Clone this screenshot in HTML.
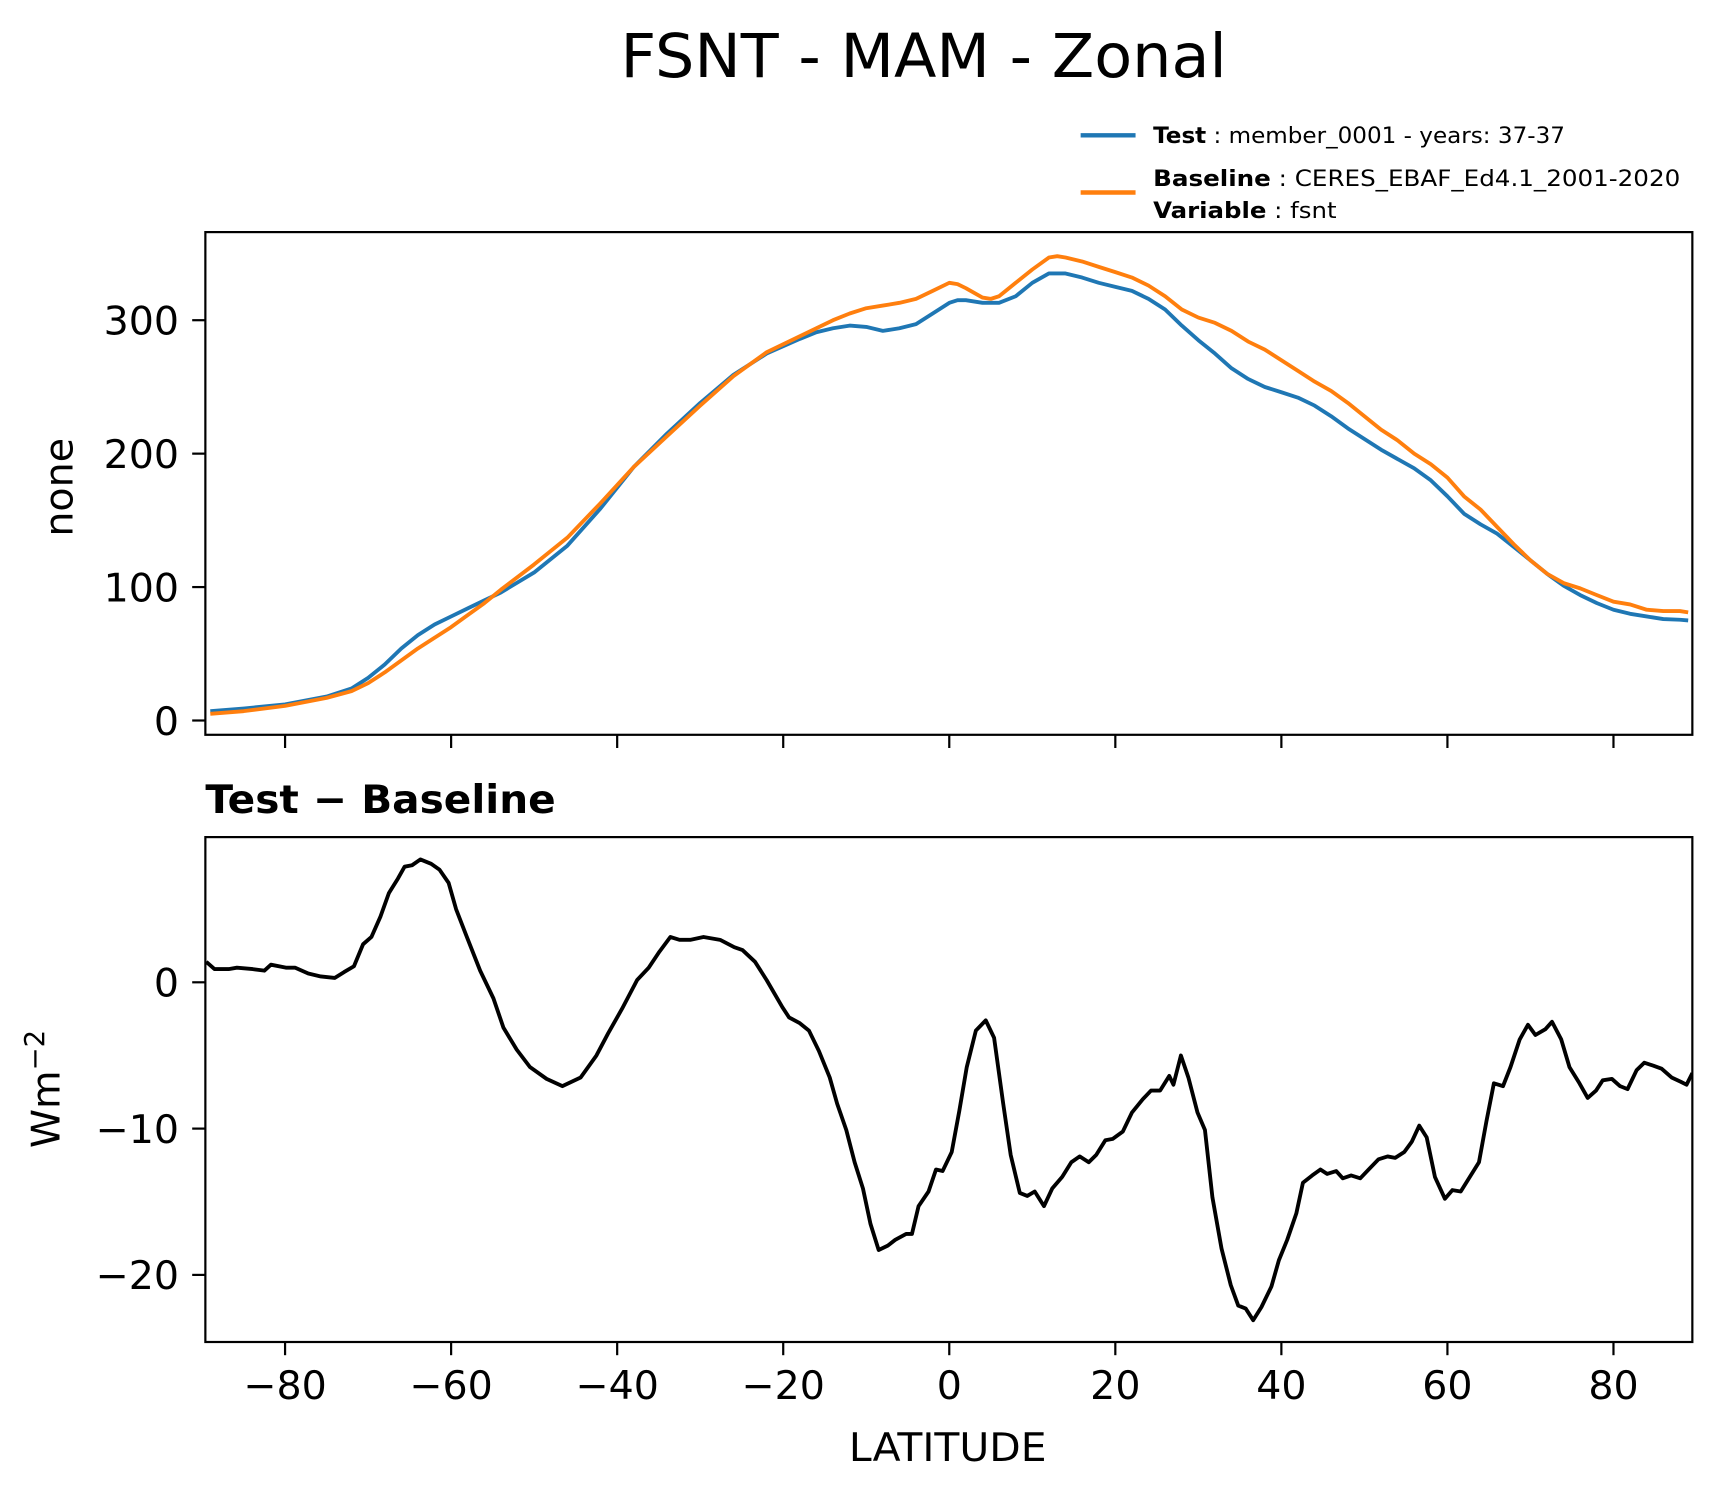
<!DOCTYPE html>
<html><head><meta charset="utf-8"><style>
html,body{margin:0;padding:0;background:#fff;}
svg{display:block;font-family:"DejaVu Sans","Liberation Sans",sans-serif;}
</style></head><body>
<svg id="chart" width="1722" height="1496" viewBox="0 0 1568 1360" preserveAspectRatio="none" xmlns="http://www.w3.org/2000/svg">
<rect width="1568" height="1360" fill="#fff"/>
<text x="841" y="70" font-size="55" text-anchor="middle" textLength="552" lengthAdjust="spacingAndGlyphs">FSNT - MAM - Zonal</text>
<g>
<line x1="984" y1="123" x2="1034" y2="123" stroke="#1f77b4" stroke-width="4"/>
<text x="1050" y="130" font-size="20" textLength="375" lengthAdjust="spacingAndGlyphs"><tspan font-weight="bold">Test</tspan> : member_0001 - years: 37-37</text>
<line x1="984" y1="175" x2="1034" y2="175" stroke="#ff7f0e" stroke-width="4"/>
<text x="1050" y="169" font-size="20" textLength="480" lengthAdjust="spacingAndGlyphs"><tspan font-weight="bold">Baseline</tspan> : CERES_EBAF_Ed4.1_2001-2020</text>
<text x="1050" y="198" font-size="20" textLength="167" lengthAdjust="spacingAndGlyphs"><tspan font-weight="bold">Variable</tspan> : fsnt</text>
</g>
<g id="topPanel"></g>
<g id="botPanel"></g>
<text x="187" y="739" font-size="36" font-weight="bold" textLength="319" lengthAdjust="spacingAndGlyphs">Test − Baseline</text>
<text x="863" y="1328" font-size="36" text-anchor="middle" textLength="180" lengthAdjust="spacingAndGlyphs">LATITUDE</text>
<text transform="translate(66,443) rotate(-90)" font-size="36" text-anchor="middle">none</text>
<text transform="translate(54,990) rotate(-90)" font-size="36" text-anchor="middle">Wm<tspan dy="-14" font-size="25">−2</tspan></text>
</svg>
<script>
const latTop=[-89,-85,-80,-75,-72,-70,-68,-66,-64,-62,-60,-58,-56,-54,-50,-46,-42,-38,-34,-30,-26,-22,-18,-16,-14,-12,-10,-8,-6,-4,-2,0,1,2,4,5,6,8,10,12,13,14,16,18,20,22,24,26,28,30,32,34,36,38,40,42,44,46,48,50,52,54,56,58,60,62,64,66,68,70,72,74,76,78,80,82,84,86,88,89];
const testVals=[7,9,12,18,24,32,42,54,64,72,78,84,90,96,111,131,159,190,215,238,259,275,286,291,294,296,295,292,294,297,305,313,315,315,313,313,313,318,328,335,335,335,332,328,325,322,316,308,296,285,275,264,256,250,246,242,236,228,219,211,203,196,189,180,168,155,147,140,130,120,110,101,94,88,83,80,78,76,75.5,75];
const baseVals=[5,7,11,17,22,28,36,45,54,62,70,79,88,98,117,137,163,190,213,236,258,276,288,294,300,305,309,311,313,316,322,328,327,324,317,316,318,328,338,347,348,347,344,340,336,332,326,318,308,302,298,292,284,278,270,262,254,247,238,228,218,210,200,192,182,168,158,145,132,120,110,103,99,94,89,87,83,82,82,81];
const latDiff=[-89.5,-88.5,-86.8,-85.8,-83.9,-82.5,-81.7,-79.9,-78.8,-77.2,-75.7,-74,-72.9,-71.7,-70.6,-69.6,-68.5,-67.5,-66.4,-65.6,-64.7,-63.7,-62.4,-61.4,-60.3,-59.4,-58.1,-56.5,-54.9,-53.7,-52.1,-50.5,-48.5,-46.6,-44.4,-42.5,-41.1,-39.4,-37.6,-36.2,-34.9,-33.6,-32.5,-31.2,-29.6,-27.6,-25.9,-24.9,-23.4,-22,-20.1,-19.3,-18,-16.9,-15.7,-14.4,-13.5,-12.4,-11.4,-10.4,-9.5,-8.5,-7.4,-6.5,-5.2,-4.5,-3.7,-2.5,-1.6,-0.8,0.3,1.2,2.1,3.2,4.4,5.4,6.5,7.4,8.5,9.4,10.3,11.4,12.4,13.6,14.7,15.7,16.8,17.7,18.8,19.7,20.9,22,23.3,24.3,25.4,26.5,27,27.9,28.8,29.9,30.8,31.7,32.8,33.9,34.8,35.7,36.6,37.6,38.8,39.7,40.7,41.8,42.6,43.7,44.7,45.5,46.6,47.4,48.4,49.5,50.5,51.7,52.8,53.7,54.8,55.7,56.6,57.5,58.5,59.7,60.6,61.6,62.7,63.8,64.7,65.6,66.7,67.6,68.7,69.7,70.6,71.8,72.6,73.7,74.7,75.9,76.9,77.9,78.7,79.8,80.8,81.7,82.8,83.7,84.8,85.8,87,88.1,88.8,89.5];
const diffVals=[1.4,0.9,0.9,1.0,0.9,0.8,1.2,1.0,1.0,0.6,0.4,0.3,0.7,1.1,2.6,3.1,4.5,6.1,7.1,7.9,8.0,8.4,8.1,7.7,6.8,5.0,3.1,0.8,-1.1,-3.1,-4.6,-5.8,-6.6,-7.1,-6.5,-5.0,-3.5,-1.8,0.15,1.0,2.1,3.1,2.9,2.9,3.1,2.9,2.4,2.2,1.4,0.15,-1.7,-2.4,-2.8,-3.3,-4.7,-6.5,-8.3,-10.1,-12.3,-14.1,-16.5,-18.3,-18.0,-17.6,-17.2,-17.2,-15.3,-14.3,-12.8,-12.9,-11.6,-8.8,-5.8,-3.3,-2.6,-3.8,-8.3,-11.8,-14.4,-14.6,-14.3,-15.3,-14.1,-13.3,-12.3,-11.9,-12.3,-11.8,-10.8,-10.7,-10.2,-8.9,-8.0,-7.4,-7.4,-6.4,-7.0,-5.0,-6.5,-8.9,-10.1,-14.7,-18.2,-20.7,-22.1,-22.3,-23.1,-22.2,-20.8,-19.0,-17.6,-15.8,-13.7,-13.2,-12.8,-13.1,-12.9,-13.4,-13.2,-13.4,-12.8,-12.1,-11.9,-12.0,-11.6,-10.9,-9.8,-10.6,-13.3,-14.8,-14.2,-14.3,-13.3,-12.3,-9.5,-6.9,-7.1,-5.8,-3.9,-2.9,-3.6,-3.2,-2.7,-3.9,-5.8,-6.9,-7.9,-7.4,-6.7,-6.6,-7.1,-7.3,-6.0,-5.5,-5.7,-5.9,-6.5,-6.8,-7.0,-6.2];
const xTicks=[-80,-60,-40,-20,0,20,40,60,80];
const xTickLabels=["−80","−60","−40","−20","0","20","40","60","80"];
const topTicks=[0,100,200,300];
const topTickLabels=["0","100","200","300"];
const botTicks=[0,-10,-20];
const botTickLabels=["0","−10","−20"];

const NS="http://www.w3.org/2000/svg";
const X0=187,X1=1541,LAT0=-89.6,LAT1=89.5;
const xs=v=>X0+(v-LAT0)/(LAT1-LAT0)*(X1-X0);
const yTop=v=>655-v*1.213;
const yBot=v=>893-v*13.3;
function mk(tag,attrs,parent){const e=document.createElementNS(NS,tag);for(const k in attrs)e.setAttribute(k,attrs[k]);parent.appendChild(e);return e;}
function panel(g,yt,yb,ys,ticks,labels,withLabels,nm){
  const frame=mk('rect',{x:X0,y:yt,width:X1-X0,height:yb-yt,fill:'none',stroke:'#000','stroke-width':2},g);
  
  
  xTicks.forEach((t,i)=>{
    const l=mk('line',{x1:xs(t),x2:xs(t),y1:yb,y2:yb+12,stroke:'#000','stroke-width':2},g);
    
    
    if(withLabels){const tx=mk('text',{x:xs(t),y:yb+52,'font-size':36,'text-anchor':'middle'},g);tx.textContent=xTickLabels[i];
      
      }
  });
  ticks.forEach((t,i)=>{
    const l=mk('line',{x1:X0-12,x2:X0,y1:ys(t),y2:ys(t),stroke:'#000','stroke-width':2},g);
    
    
    const tx=mk('text',{x:X0-24,y:ys(t)+13,'font-size':36,'text-anchor':'end'},g);tx.textContent=labels[i];
    
    
  });
}
function line(g,lats,vals,ys,color,nm,clip){
  const d=lats.map((la,i)=>(i?'L':'M')+xs(la).toFixed(1)+','+ys(vals[i]).toFixed(1)).join('');
  const p=mk('path',{d:d,fill:'none',stroke:color,'stroke-width':3.5,'stroke-linejoin':'round','clip-path':'url(#'+clip+')'},g);
  
  
}
const svgEl=document.getElementById('chart');
const defs=mk('defs',{},svgEl);
const c1=mk('clipPath',{id:'c1'},defs);mk('rect',{x:X0,y:211,width:X1-X0,height:457},c1);
const c2=mk('clipPath',{id:'c2'},defs);mk('rect',{x:X0,y:761,width:X1-X0,height:459},c2);
const topG=document.getElementById('topPanel'),botG=document.getElementById('botPanel');
line(topG,latTop,testVals,yTop,'#1f77b4','test-line','c1');
line(topG,latTop,baseVals,yTop,'#ff7f0e','baseline-line','c1');
panel(topG,211,668,yTop,topTicks,topTickLabels,false,'top');
line(botG,latDiff,diffVals,yBot,'#000','difference-line','c2');
panel(botG,761,1220,yBot,botTicks,botTickLabels,true,'bottom');
</script>
</body></html>
